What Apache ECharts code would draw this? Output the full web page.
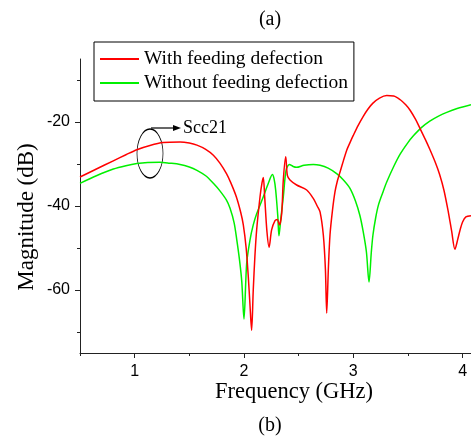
<!DOCTYPE html>
<html>
<head>
<meta charset="utf-8">
<script src="https://cdn.jsdelivr.net/npm/echarts@6/dist/echarts.min.js"></script>
<style>html,body{margin:0;padding:0;background:#fff}#c{width:471px;height:438px}</style>
</head>
<body>
<div id="c"></div>
<script>
// Data
var redFreq = [0.5,0.65,0.8,0.92,1.02,1.14,1.26,1.415,1.5,1.57,1.65,1.72,1.78,1.84,1.88,1.93,1.97,1.994,2.02,2.04,2.055,2.07,2.085,2.10,2.116,2.147,2.165,2.177,2.19,2.21,2.23,2.253,2.284,2.305,2.324,2.345,2.36,2.382,2.397,2.421,2.482,2.574,2.634,2.67,2.696,2.726,2.745,2.757,2.772,2.787,2.81,2.833,2.855,2.879,2.91,2.94,2.97,3.0,3.045,3.09,3.135,3.18,3.24,3.306,3.37,3.43,3.48,3.52,3.57,3.61,3.66,3.70,3.75,3.79,3.83,3.87,3.9,3.93,3.955,3.977,4.0,4.03,4.077];
var redMag = [-33.1,-31.2,-29.3,-27.8,-26.6,-25.6,-24.9,-24.75,-25.0,-25.5,-26.5,-27.9,-29.8,-32.3,-34.5,-37.8,-41.5,-44.5,-50,-57,-63.5,-69.6,-60,-52,-45.7,-37.8,-34.5,-33.2,-38,-46,-49.8,-45.7,-43.5,-43.2,-44.5,-41.8,-33.8,-28.3,-32.7,-33.8,-35,-36.2,-38.2,-40,-41.4,-46.9,-55,-65.5,-55,-46.9,-41,-36.6,-34,-31.9,-29.2,-26.7,-24.9,-23.2,-20.8,-18.7,-16.9,-15.5,-14.3,-13.7,-13.8,-14.7,-15.9,-17.2,-19.4,-21.5,-24.2,-26.5,-29.6,-32.5,-36.3,-41.5,-46,-50.3,-48,-45.7,-43.8,-42.6,-42.3];
var greenFreq = [0.5,0.65,0.805,0.92,1.02,1.12,1.23,1.32,1.415,1.5,1.57,1.65,1.72,1.78,1.84,1.872,1.91,1.934,1.96,1.98,2.0,2.025,2.055,2.085,2.117,2.177,2.223,2.26,2.275,2.29,2.31,2.32,2.336,2.36,2.385,2.415,2.45,2.48,2.55,2.634,2.696,2.77,2.848,2.91,2.97,3.02,3.06,3.09,3.12,3.144,3.165,3.18,3.205,3.23,3.27,3.306,3.37,3.43,3.5,3.55,3.62,3.70,3.78,3.855,3.95,4.077];
var greenMag = [-34.6,-32.8,-31.2,-30.4,-29.9,-29.65,-29.6,-29.8,-30.1,-30.7,-31.5,-32.8,-34.6,-36.4,-38.6,-40.5,-44,-48,-53,-58,-66.9,-53.6,-48.1,-44.5,-41.8,-37.8,-34.6,-32.5,-33.5,-36.2,-42.6,-47.1,-43.3,-37.8,-31.5,-30.1,-30.6,-30.8,-30.3,-30.1,-30.3,-31,-32.3,-33.8,-35.8,-38.8,-42.2,-46,-50.9,-58.1,-51,-46.9,-42.8,-39.8,-36.8,-34.3,-30.6,-27.6,-24.9,-23.3,-21.4,-19.8,-18.6,-17.7,-16.8,-15.9];
var xMajor = [1,2,3,4];
var xMinor = [0.5,1.5,2.5,3.5];
var yMajor = [-60,-40,-20];
var yMinor = [-70,-50,-30,-10];
var seriesNames = ['With feeding defection','Without feeding defection'];

function zip(a,b){var r=[];for(var i=0;i<a.length;i++)r.push([a[i],b[i]]);return r;}

var SERIF = '"Liberation Serif","Times New Roman",serif';
var SANS = '"Liberation Sans",Arial,sans-serif';
var axisCol = '#222';

var chart = echarts.init(document.getElementById('c'), null, {renderer:'canvas'});
var X0=0.5, X1=4.077, Y0=-75, Y1=-5;
chart.setOption({
  animation:false,
  backgroundColor:'#fff',
  title:[
    {text:'(a)', left:265, top:5, textAlign:'center', textStyle:{fontFamily:SERIF,fontSize:20,fontWeight:'normal',color:'#000'}},
    {text:'(b)', left:265, top:411, textAlign:'center', textStyle:{fontFamily:SERIF,fontSize:20,fontWeight:'normal',color:'#000'}}
  ],
  grid:{left:80,right:0,top:59,bottom:85,containLabel:false},
  legend:{
    orient:'vertical', left:94, top:42,
    padding:[7,6,8,6], itemGap:4,
    borderColor:'#000', borderWidth:1,
    itemWidth:39, itemHeight:2, icon:'rect',
    textStyle:{fontFamily:SERIF,fontSize:19.5,color:'#000',lineHeight:20},
    data:seriesNames
  },
  xAxis:[
    {type:'value',min:X0,max:X1,position:'bottom',
     axisLine:{show:true,onZero:false,lineStyle:{color:axisCol,width:1}},
     axisTick:{show:true,length:5,customValues:xMajor,lineStyle:{color:axisCol}},
     axisLabel:{show:true,customValues:xMajor,margin:11,fontFamily:SANS,fontSize:16,color:'#000'},
     splitLine:{show:false}},
    {type:'value',min:X0,max:X1,position:'bottom',
     axisLine:{show:false,onZero:false},
     axisTick:{show:true,length:3,customValues:xMinor,lineStyle:{color:axisCol}},
     axisLabel:{show:false},
     splitLine:{show:false}}
  ],
  yAxis:[
    {type:'value',min:Y0,max:Y1,position:'left',
     axisLine:{show:true,onZero:false,lineStyle:{color:axisCol,width:1}},
     axisTick:{show:true,length:5,customValues:yMajor,lineStyle:{color:axisCol}},
     axisLabel:{show:true,customValues:yMajor,margin:10,fontFamily:SANS,fontSize:16,color:'#000'},
     splitLine:{show:false}},
    {type:'value',min:Y0,max:Y1,position:'left',offset:0,
     axisLine:{show:false,onZero:false},
     axisTick:{show:true,length:3,customValues:yMinor,lineStyle:{color:axisCol}},
     axisLabel:{show:false},
     splitLine:{show:false}}
  ],
  series:[
    {name:seriesNames[0],type:'line',xAxisIndex:0,yAxisIndex:0,data:zip(redFreq,redMag),
     showSymbol:false,smooth:0.3,lineStyle:{color:'#ff0000',width:1.5},itemStyle:{color:'#ff0000'},z:3},
    {name:seriesNames[1],type:'line',xAxisIndex:0,yAxisIndex:0,data:zip(greenFreq,greenMag),
     showSymbol:false,smooth:0.3,lineStyle:{color:'#00f000',width:1.5},itemStyle:{color:'#00f000'},z:2}
  ],
  graphic:[
    {type:'text',x:294,y:392,style:{text:'Frequency (GHz)',x:0,y:0,textAlign:'center',textVerticalAlign:'middle',font:'22.5px '+SERIF,fill:'#000'}},
    {type:'text',x:27,y:217,rotation:Math.PI/2,style:{text:'Magnitude (dB)',x:0,y:0,textAlign:'center',textVerticalAlign:'middle',font:'23px '+SERIF,fill:'#000'}},
    {type:'circle',x:150,y:153.5,scaleX:13/24.5,shape:{cx:0,cy:0,r:24.5},style:{fill:'none',stroke:'#000',lineWidth:1.3,strokeNoScale:true}},
    {type:'line',shape:{x1:151,y1:128,x2:174,y2:128},style:{stroke:'#000',lineWidth:1.2}},
    {type:'polygon',shape:{points:[[181,128],[173,125],[173,131]]},style:{fill:'#000'}},
    {type:'text',x:183,y:128,style:{text:'Scc21',x:0,y:0,textVerticalAlign:'middle',font:'18px '+SERIF,fill:'#000'}}
  ]
});
</script>
</body>
</html>
